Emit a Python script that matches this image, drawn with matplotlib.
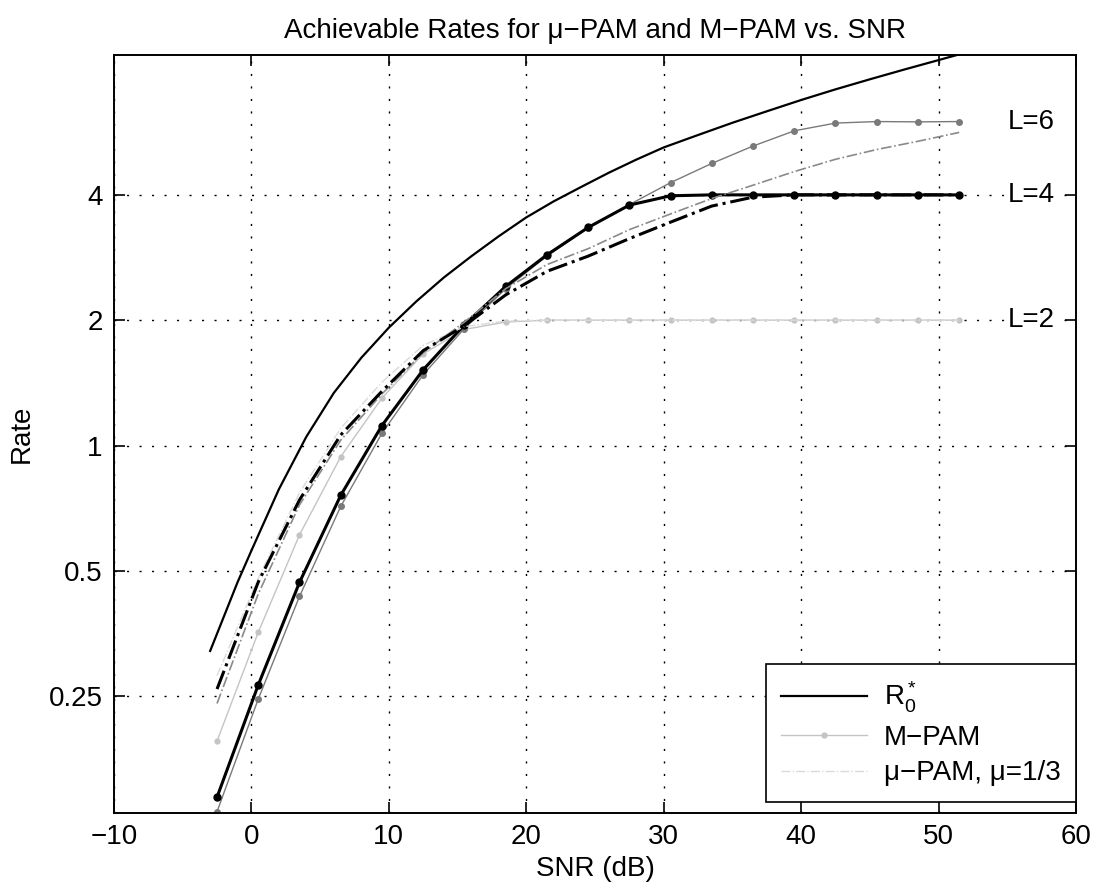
import matplotlib
matplotlib.use("Agg")
import matplotlib.pyplot as plt
from matplotlib.ticker import FixedLocator, NullLocator

plt.rcParams['font.family'] = ['Liberation Sans', 'DejaVu Sans']
plt.rcParams['mathtext.fontset'] = 'custom'
plt.rcParams['mathtext.rm'] = 'Liberation Sans'
plt.rcParams['mathtext.it'] = 'Liberation Sans:italic'

# SNR grid of the simulated curves (dB)
snr = [-2.5, 0.5, 3.5, 6.5, 9.5, 12.5, 15.5, 18.5, 21.5, 24.5,
       27.5, 30.5, 33.5, 36.5, 39.5, 42.5, 45.5, 48.5, 51.5]

# R0* bound
r0_snr = [-3.0, -1.0, 0.0, 2.0, 4.0, 6.0, 8.0, 10.0, 12.0, 14.0, 16.0, 18.0,
          20.0, 22.0, 24.0, 26.0, 28.0, 30.0, 32.5, 35.0, 37.5, 40.0, 42.5,
          45.0, 47.5, 50.0, 51.5]
r0_rate = [0.321, 0.47, 0.559, 0.785, 1.05, 1.338, 1.625, 1.919, 2.219, 2.532,
           2.848, 3.182, 3.531, 3.86, 4.18, 4.52, 4.86, 5.20, 5.57, 5.96, 6.35,
           6.76, 7.17, 7.58, 8.00, 8.43, 8.70]

# M-PAM rates
mpam_L2 = [0.195, 0.356, 0.61, 0.94, 1.30, 1.66, 1.90, 1.98, 2.0, 2.0,
           2.0, 2.0, 2.0, 2.0, 2.0, 2.0, 2.0, 2.0, 2.0]
mpam_L4 = [0.143, 0.266, 0.469, 0.759, 1.117, 1.52, 1.95, 2.41, 2.87, 3.34,
           3.78, 3.98, 4.0, 4.0, 4.0, 4.0, 4.0, 4.0, 4.0]
mpam_L6 = [0.132, 0.246, 0.434, 0.714, 1.07, 1.48, 1.91, 2.38, 2.85, 3.33,
           3.79, 4.28, 4.76, 5.24, 5.70, 5.95, 6.0, 5.99, 6.0]

# mu-PAM rates, mu = 1/3
mu_L2 = [0.28, 0.48, 0.77, 1.10, 1.42, 1.74, 1.93, 1.99, 2.0, 2.0,
         2.0, 2.0, 2.0, 2.0, 2.0, 2.0, 2.0, 2.0, 2.0]
mu_L4 = [0.26, 0.47, 0.74, 1.06, 1.35, 1.69, 1.94, 2.30, 2.62, 2.85,
         3.14, 3.44, 3.76, 3.95, 4.0, 4.0, 4.0, 4.0, 4.0]
mu_L6 = [0.24, 0.44, 0.72, 1.03, 1.33, 1.67, 1.98, 2.38, 2.72, 2.97,
         3.30, 3.60, 3.92, 4.22, 4.55, 4.87, 5.14, 5.38, 5.65]

levels = [6, 4, 2]
level_labels = ['L=6', 'L=4', 'L=2']
yticks = [0.25, 0.5, 1, 2, 4]
ytick_labels = ['0.25', '0.5', '1', '2', '4']

fs = 20
fig = plt.figure(figsize=(11.01, 8.93), dpi=100)
ax = fig.add_axes([0.1035, 0.0896, 0.8738, 0.8488])

l_r0, = ax.plot(r0_snr, r0_rate, color='black', lw=1.6)
l_m2, = ax.plot(snr, mpam_L2, color='#c4c4c4', lw=1.0, marker='o', ms=3.5)
ax.plot(snr, mpam_L6, color='#7a7a7a', lw=1.0, marker='o', ms=4)
ax.plot(snr, mpam_L4, color='black', lw=2.2, marker='o', ms=5)
l_u2, = ax.plot(snr, mu_L2, color='#dadada', lw=1.0, ls='-.')
ax.plot(snr, mu_L6, color='#8a8a8a', lw=1.2, ls='-.')
ax.plot(snr, mu_L4, color='black', lw=2.2, ls='-.')

for lev, lab in zip(levels, level_labels):
    ax.text(55.0, lev, lab, fontsize=fs, va='center', ha='left',
            bbox=dict(facecolor='white', edgecolor='none', pad=1))

ax.set_yscale('log', base=2)
ax.set_xlim(-10, 60)
ax.set_ylim(0.131, 8.67)
ax.yaxis.set_major_locator(FixedLocator(yticks))
ax.yaxis.set_minor_locator(NullLocator())
ax.set_yticklabels(ytick_labels)
ax.set_xticks(range(-10, 61, 10))
ax.set_xticklabels(['\u221210', '0', '10', '20', '30', '40', '50', '60'])

ax.grid(True, color='black', lw=1.0, ls=(0, (1.5, 7.5)))
ax.set_axisbelow(True)
ax.tick_params(direction='in', length=8, width=1.2, top=True, right=True,
               labelsize=fs, pad=8)
for s in ax.spines.values():
    s.set_linewidth(1.4)

ax.set_xlabel('SNR (dB)', fontsize=fs, labelpad=4)
ax.set_ylabel('Rate', fontsize=fs, labelpad=10)
ax.set_title('Achievable Rates for \u03bc\u2212PAM and M\u2212PAM vs. SNR',
             fontsize=fs, pad=12)

leg = ax.legend([l_r0, l_m2, l_u2],
                [r'$\mathrm{R}_0^*$', 'M\u2212PAM', '\u03bc\u2212PAM, \u03bc=1/3'],
                loc='lower right', bbox_to_anchor=(1.0, 0.015), borderaxespad=0,
                fontsize=fs, fancybox=False, handlelength=3.1, framealpha=1,
                labelspacing=0.35, borderpad=0.55, handletextpad=0.6)
leg.get_frame().set_edgecolor('black')
leg.get_frame().set_linewidth(1.2)

fig.savefig('out.png', dpi=100)
